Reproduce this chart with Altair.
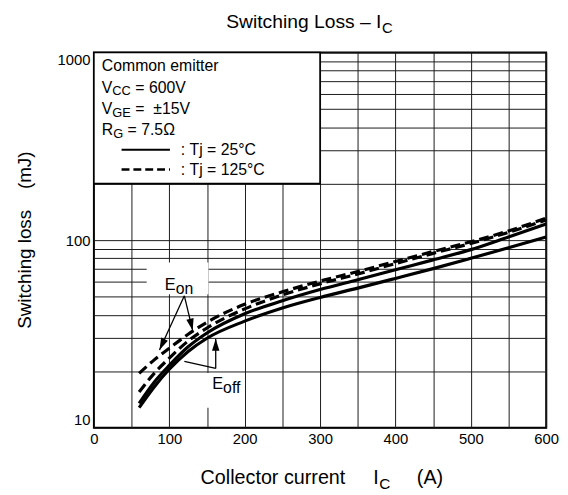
import altair as alt
import pandas as pd

FONT = "Liberation Sans"
W, H = 458, 380
NB = "\u00a0"

# ---------------- data ----------------
ic = [60, 80, 100, 125, 150, 200, 250, 300, 350, 400, 450, 500, 550, 600]
eon_125 = [19.5, 23.0, 26.5, 31.5, 36.5, 45.5, 53.0, 60.5, 68.0, 77.0, 87.0, 98.0, 112.0, 131.0]
eoff_125 = [15.5, 19.5, 23.5, 29.0, 34.0, 43.0, 51.0, 58.5, 66.0, 75.0, 85.0, 96.0, 110.0, 128.0]
eon_25 = [13.5, 17.5, 21.5, 27.0, 32.0, 40.5, 47.5, 54.5, 61.5, 69.5, 78.5, 89.0, 104.0, 122.0]
eoff_25 = [12.8, 16.5, 20.5, 25.5, 30.0, 37.0, 43.5, 49.5, 55.5, 62.5, 70.5, 80.0, 91.0, 104.0]

x_grid = list(range(0, 601, 50))
x_labels = [0, 100, 200, 300, 400, 500, 600]
y_grid = [10, 20, 30, 40, 50, 60, 70, 80, 90, 100, 200, 300, 400, 500, 600, 700, 800, 900, 1000]
y_labels = [10, 100, 1000]

# condition box (x from 0 to 300 A, y from 200 to 1000 mJ)
box_x = [0, 300]
box_y = [200, 1000]

# annotation anchors (data coords)
eon_label_xy = (94, 57.3)
eoff_label_xy = (157, 17.0)
eon_bg = ([70, 152], [51.5, 76])
eoff_bg = ([148, 200], [12.8, 19.6])
eon_from = (120, 50.5)
eon_tips = [(87, 26.0), (131, 33.0)]
eoff_from = (161.6, 20.7)
eoff_tips = [(161.6, 29.8), (120, 22.6)]

# ---------------- helpers ----------------
ARIAL = {' ': 278, NB: 278, 'S': 667, 'w': 722, 'i': 222, 't': 278, 'c': 500, 'h': 556, 'n': 556,
         'g': 556, 'L': 556, 'o': 556, 's': 500, '–': 556, 'I': 278, 'C': 722, 'E': 667, 'f': 278,
         'l': 222, 'e': 556, 'r': 333, 'u': 556, '(': 333, ')': 333, 'A': 667, 'V': 667, 'G': 778,
         'R': 722, '=': 584, '±': 584, '.': 278, 'Ω': 768, ':': 278, 'T': 611, 'j': 222, '°': 400,
         'm': 833, 'J': 500}


def tw(s, fs):
    return sum(ARIAL.get(ch, 556) for ch in s) * fs / 1000.0


xs = alt.Scale(domain=[0, 600], nice=False, zero=False)
ys = alt.Scale(type="log", domain=[10, 1000], nice=False)
one = pd.DataFrame({"a": [0]})

x_expr = "indexof([" + ",".join(str(v) for v in x_labels) + "], datum.value) >= 0 ? datum.label : ''"
y_expr = "indexof([" + ",".join(str(v) for v in y_labels) + "], datum.value) >= 0 ? datum.label : ''"

axis_x = alt.Axis(values=x_grid, labelExpr=x_expr, format="d", grid=True, gridColor="#1a1a1a",
                  gridOpacity=1, gridWidth=1, ticks=False, domain=False, labelFont=FONT,
                  labelFontSize=15, labelColor="black", labelPadding=4, labelFlush=False,
                  title=None)
axis_y = alt.Axis(values=y_grid, labelExpr=y_expr, format="d", grid=True, gridColor="#1a1a1a",
                  gridOpacity=1, gridWidth=1, ticks=False, domain=False, labelFont=FONT,
                  labelFontSize=15, labelColor="black", labelPadding=4, labelFlush=True,
                  title=None)


def xenc(field="x"):
    return alt.X(f"{field}:Q", scale=xs, axis=axis_x)


def yenc(field="y"):
    return alt.Y(f"{field}:Q", scale=ys, axis=axis_y)


def ptext(text, px, py, fs, align="left", baseline="alphabetic", angle=None):
    # leading spaces are dropped by the renderer: move the anchor instead
    stripped = text.lstrip(" ")
    if align == "left":
        px = px + tw(text[: len(text) - len(stripped)], fs)
    kw = dict(text=stripped.replace(" ", NB), fontSize=fs, font=FONT, align=align,
              baseline=baseline, color="black")
    if angle is not None:
        kw["angle"] = angle
    return alt.Chart(one).mark_text(**kw).encode(x=alt.value(px), y=alt.value(py))


def sub_text(main, sub, rest, px, py, fs=16, sfs=13):
    """main text + lowered subscript + rest, laid out left to right"""
    x1 = px + tw(main, fs)
    x2 = x1 + tw(sub, sfs)
    return [ptext(main, px, py, fs), ptext(sub, x1, py + 3, sfs), ptext(rest, x2, py, fs)]


def dtexts(parts, x, y):
    layers = []
    off = 0.0
    d = pd.DataFrame({"x": [x], "y": [y]})
    for s, fs, dy in parts:
        layers.append(alt.Chart(d).mark_text(text=s, fontSize=fs, font=FONT, align="left",
                                             baseline="middle", dx=off, dy=dy, color="black")
                      .encode(x=xenc(), y=yenc()))
        off += tw(s, fs)
    return layers


# ---------------- curves ----------------
rows = []
for name, vals in [("eon_125", eon_125), ("eoff_125", eoff_125), ("eon_25", eon_25), ("eoff_25", eoff_25)]:
    for a, b in zip(ic, vals):
        rows.append({"x": a, "y": b, "curve": name})
df = pd.DataFrame(rows)

base = alt.Chart(df).encode(x=xenc(), y=yenc(), detail="curve:N")
solid = base.transform_filter("indexof(datum.curve, '_25') >= 0").mark_line(
    color="black", strokeWidth=3.2, interpolate="monotone")
dashed = base.transform_filter("indexof(datum.curve, '_125') >= 0").mark_line(
    color="black", strokeWidth=3.2, strokeDash=[10, 5], interpolate="monotone")


# ---------------- box and backgrounds ----------------
def rect(xr, yr, **kw):
    d = pd.DataFrame({"x": [xr[0]], "x2": [xr[1]], "y": [yr[0]], "y2": [yr[1]]})
    return alt.Chart(d).mark_rect(**kw).encode(x=xenc(), x2="x2:Q", y=yenc(), y2="y2:Q")


box = rect(box_x, box_y, fill="white", stroke="black", strokeWidth=1.6)


# ---------------- arrows ----------------
def shafts(frm, tips):
    d = pd.DataFrame({"x": [frm[0]] * len(tips), "y": [frm[1]] * len(tips),
                      "x2": [t[0] for t in tips], "y2": [t[1] for t in tips]})
    return alt.Chart(d).mark_rule(color="black", strokeWidth=1.3).encode(
        x=xenc(), y=yenc(), x2="x2:Q", y2="y2:Q")


HEAD = "M0,0L-0.75,2.4L0.75,2.4Z"


def head(tip, angle):
    d = pd.DataFrame({"x": [tip[0]], "y": [tip[1]]})
    return alt.Chart(d).mark_point(shape=HEAD, size=100, filled=True, color="black", opacity=1,
                                   angle=angle, strokeWidth=0).encode(x=xenc(), y=yenc())


# ---------------- texts (pixel positions relative to the plot area) ----------------
TITLE = "Switching Loss – I"
texts = [
    # title
    ptext(TITLE, 134, -25, 19.5),
    ptext("C", 134 + tw(TITLE, 19.5) + 0.5, -20, 15),
    # x title
    ptext("Collector current", 108, 437, 20),
    ptext("I", 283, 437, 20),
    ptext("C", 289, 442, 15.5),
    ptext("(A)", 327, 437, 20),
    # y title
    ptext("Switching loss    (mJ)", -70, 190, 19, align="center", baseline="middle", angle=270),
    # condition box
    ptext("Common emitter", 8, 19, 16),
    ptext(": Tj = 25°C", 88, 104, 16),
    ptext(": Tj = 125°C", 88, 124, 16),
]
texts += sub_text("V", "CC", " = 600V", 8, 40.5)
texts += sub_text("V", "GE", " =  ±15V", 8, 62)
texts += sub_text("R", "G", " = 7.5Ω", 8, 84)

leg_solid = alt.Chart(one).mark_rule(color="black", strokeWidth=2).encode(
    x=alt.value(28), x2=alt.value(77), y=alt.value(98.5))
leg_dash = alt.Chart(one).mark_rule(color="black", strokeWidth=2.5, strokeDash=[8, 4]).encode(
    x=alt.value(28), x2=alt.value(77), y=alt.value(118.5))

# annotation labels
ann = []
ann += dtexts([("E", 16.5, 0), ("on", 16, 4)], *eon_label_xy)
ann += dtexts([("E", 16.5, 0), ("off", 16, 4)], *eoff_label_xy)

chart = alt.layer(
    box, rect(*eon_bg, fill="white"), rect(*eoff_bg, fill="white"),
    shafts(eon_from, eon_tips), shafts(eoff_from, eoff_tips),
    solid, dashed,
    head(eon_tips[0], 205), head(eon_tips[1], 167), head(eoff_tips[0], 0),
    leg_solid, leg_dash,
    *ann, *texts,
).properties(
    width=W, height=H,
    autosize=alt.AutoSizeParams(type="none"),
    padding={"left": 87, "top": 42, "right": 14, "bottom": 63},
    background="white",
).configure_view(stroke="black", strokeWidth=2)

chart.save("out.html", embed_options={"renderer": "svg", "actions": False})
